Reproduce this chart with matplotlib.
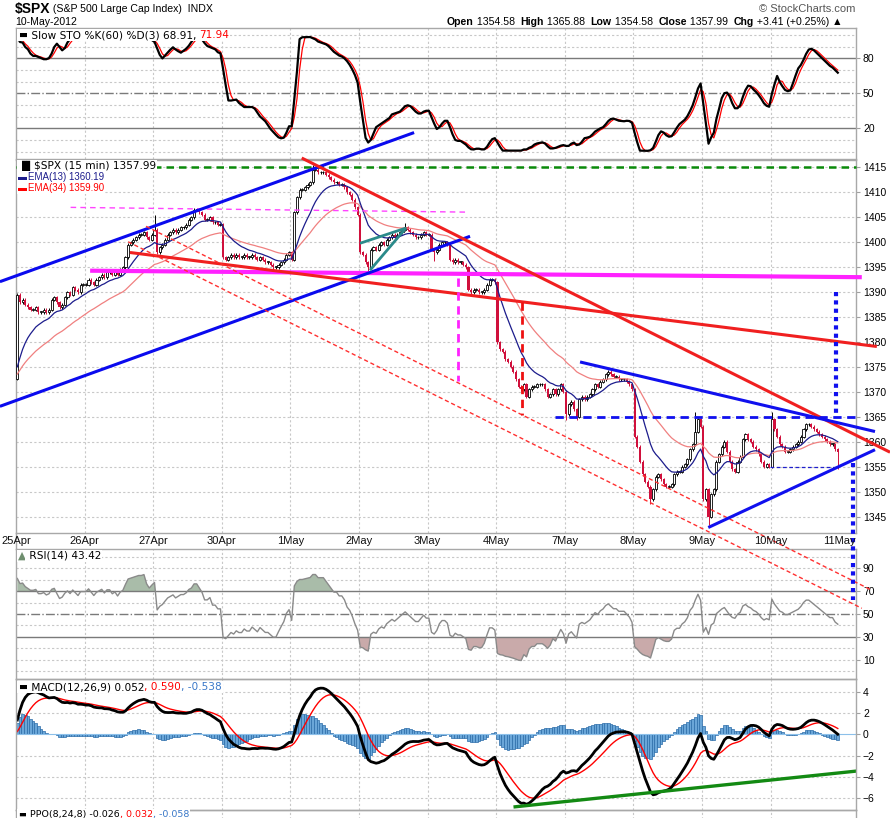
import numpy as np
import pandas as pd
import matplotlib
matplotlib.use('Agg')
import matplotlib.pyplot as plt
from matplotlib.lines import Line2D

# ---- values ----
# 15 minute closes of $SPX, 26 bars per trading day
day_labels = ['25Apr', '26Apr', '27Apr', '30Apr', '1May', '2May', '3May',
              '4May', '7May', '8May', '9May', '10May', '11May']
prior_close = 1372.6

close_25apr = [1389.5, 1388.0, 1388.5, 1387.5, 1387.0, 1386.5, 1386.5, 1387.0, 1386.0, 1386.0, 1386.5, 1386.0, 1386.5,
               1388.5, 1389.0, 1388.0, 1387.0, 1387.5, 1389.0, 1390.0, 1389.5, 1391.0, 1390.5, 1390.0, 1391.5, 1391.5]
close_26apr = [1391.5, 1392.5, 1392.0, 1391.5, 1392.5, 1393.0, 1393.5, 1393.0, 1394.0, 1394.0, 1393.5, 1394.0, 1393.5,
               1394.5, 1395.0, 1397.0, 1399.5, 1400.0, 1400.5, 1401.0, 1401.5, 1401.5, 1402.0, 1401.0, 1400.5, 1401.5]
close_27apr = [1402.5, 1398.0, 1399.0, 1399.5, 1400.5, 1401.5, 1402.0, 1402.5, 1402.0, 1402.5, 1403.0, 1403.0, 1403.5,
               1404.5, 1405.0, 1406.5, 1406.5, 1406.0, 1405.5, 1404.5, 1404.5, 1405.0, 1404.0, 1404.0, 1403.5, 1403.5]
close_30apr = [1397.0, 1396.5, 1397.0, 1397.5, 1397.0, 1397.5, 1397.0, 1397.0, 1397.5, 1397.0, 1397.0, 1397.5, 1397.0,
               1396.5, 1397.0, 1396.5, 1396.0, 1396.0, 1395.5, 1395.0, 1395.0, 1395.5, 1396.0, 1396.5, 1397.5, 1398.0]
close_1may = [1396.5, 1406.0, 1409.0, 1410.5, 1410.5, 1411.0, 1411.5, 1412.0, 1414.5, 1414.5, 1414.0, 1414.0, 1414.0,
              1413.5, 1413.0, 1412.5, 1412.0, 1412.0, 1411.5, 1411.5, 1411.0, 1410.0, 1409.5, 1408.5, 1407.0, 1405.5]
close_2may = [1398.0, 1397.5, 1396.0, 1395.0, 1398.5, 1399.0, 1398.5, 1399.5, 1400.0, 1399.5, 1400.5, 1401.0, 1401.5,
              1401.0, 1401.5, 1402.0, 1402.5, 1403.0, 1402.5, 1402.0, 1401.5, 1401.0, 1401.0, 1401.5, 1402.0, 1401.5]
close_3may = [1401.5, 1398.5, 1398.0, 1398.5, 1399.5, 1400.0, 1400.0, 1399.5, 1396.5, 1396.0, 1396.5, 1396.0, 1396.0,
              1395.5, 1395.0, 1390.5, 1390.0, 1390.5, 1390.5, 1390.0, 1390.0, 1390.5, 1391.5, 1392.5, 1392.5, 1392.0]
close_4may = [1380.0, 1378.5, 1378.0, 1376.5, 1376.0, 1375.0, 1374.0, 1372.5, 1371.0, 1370.5, 1371.5, 1369.0, 1370.5,
              1371.0, 1371.0, 1371.5, 1371.5, 1371.5, 1370.5, 1369.0, 1369.5, 1370.5, 1369.5, 1370.5, 1371.5, 1370.0]
close_7may = [1365.5, 1367.5, 1368.0, 1366.5, 1365.0, 1368.5, 1369.0, 1368.5, 1369.0, 1369.5, 1370.5, 1371.5, 1371.0,
              1372.0, 1372.5, 1373.5, 1374.0, 1373.5, 1373.0, 1373.0, 1372.5, 1372.5, 1372.5, 1372.0, 1371.5, 1370.5]
close_8may = [1361.0, 1359.0, 1356.0, 1353.5, 1352.0, 1351.0, 1348.5, 1350.5, 1353.0, 1353.5, 1352.5, 1351.5, 1351.0,
              1351.0, 1351.5, 1353.5, 1354.0, 1354.0, 1355.0, 1355.5, 1356.5, 1358.5, 1359.5, 1362.0, 1364.5, 1363.0]
close_9may = [1348.5, 1350.5, 1345.0, 1349.5, 1350.5, 1356.0, 1357.5, 1359.0, 1360.0, 1358.0, 1356.0, 1354.5, 1354.0,
              1356.0, 1357.0, 1360.5, 1361.5, 1360.5, 1360.0, 1359.0, 1358.5, 1357.5, 1356.0, 1355.0, 1355.5, 1355.0]
close_10may = [1364.5, 1362.5, 1361.0, 1359.5, 1359.0, 1358.0, 1358.0, 1358.5, 1359.0, 1359.5, 1360.0, 1361.0, 1362.5,
               1363.5, 1363.5, 1363.0, 1362.5, 1362.0, 1361.5, 1361.0, 1360.5, 1360.0, 1359.5, 1359.5, 1358.5, 1358.0]

# longer wicks that stand out (bar index -> price)
wick_high = {52: 1405.5, 112: 1415.5, 147: 1403.8, 257: 1366.0, 286: 1366.0}
wick_low = {133: 1394.2, 158: 1396.2, 208: 1364.4, 212: 1364.3, 240: 1347.5, 262: 1343.3, 311: 1354.6}

# hand drawn trendlines: (bar index pair, value pair)
blue_chan_top = ([-6.6, 150.4], [1392.1, 1422.0])
blue_chan_bot = ([-6.6, 171.6], [1367.1, 1401.2])
red_down = ([107.8, 330.8], [1416.9, 1357.9])
red_shallow = ([42.7, 325.8], [1397.95, 1379.1])
magenta_support = ([27.6, 320.1], [1394.3, 1393.0])
magenta_dash = ([20.2, 170.1], [1407.0, 1406.05])
green_top = ([-0.5, 317.9], [1415.0, 1415.0])
teal_a = ([129.9, 147.3], [1399.8, 1402.85])
teal_b = ([133.7, 147.3], [1394.4, 1402.85])
red_dash_u = ([48.8, 323.2], [1403.2, 1330.4])
red_dash_l = ([42.0, 320.1], [1400.1, 1326.6])
magenta_vert = ([167.2, 167.2], [1392.8, 1372.1])
red_vert = ([191.2, 191.2], [1388.1, 1365.4])
blue_1365 = ([203.7, 317.9], [1365.0, 1365.0])
blue_vdot_a = ([310.3, 310.3], [1390.1, 1365.7])
blue_vdot_b = ([316.9, 316.9], [1355.7, 1328.3])
tri_top = ([213.3, 325.1], [1376.0, 1362.05])
tri_bot = ([261.9, 325.1], [1342.8, 1358.4])
dash_1355 = ([285.3, 310.0], [1355.0, 1355.0])
macd_support = ([188.7, 317.9], [-6.8, -3.45])

# ---- build OHLC + indicators ----
closes = np.array(close_25apr + close_26apr + close_27apr + close_30apr + close_1may + close_2may +
                  close_3may + close_4may + close_7may + close_8may + close_9may + close_10may)
n = len(closes)
x = np.arange(n)
opens = np.r_[prior_close, closes[:-1]]
highs = np.maximum(opens, closes) + 0.3
lows = np.minimum(opens, closes) - 0.3
for k, v in wick_high.items():
    highs[k] = max(highs[k], v)
for k, v in wick_low.items():
    lows[k] = min(lows[k], v)

s = pd.Series(np.r_[prior_close, closes])
ema13 = s.ewm(span=13, adjust=False).mean().values[1:]
ema34 = s.ewm(span=34, adjust=False).mean().values[1:]
macd_full = s.ewm(span=12, adjust=False).mean() - s.ewm(span=26, adjust=False).mean()
signal_full = macd_full.ewm(span=9, adjust=False).mean()
macd = macd_full.values[1:]
signal = signal_full.values[1:]
hist = macd - signal

# RSI(14), Wilder smoothing
ag, al = 0.42, 0.40
rsi = []
for dlt in np.diff(np.r_[prior_close, closes]):
    ag = (ag * 13 + max(dlt, 0)) / 14
    al = (al * 13 + max(-dlt, 0)) / 14
    rsi.append(100 - 100 / (1 + ag / al))
rsi = np.array(rsi)

# slow stochastic %K(60) %D(3)
hh = pd.Series(highs).rolling(60, min_periods=1).max()
ll = pd.Series(lows).rolling(60, min_periods=1).min()
fastk = 100 * (closes - ll) / (hh - ll)
slowk = fastk.rolling(3, min_periods=1).mean().values
slowd = pd.Series(slowk).rolling(3, min_periods=1).mean().values

# ---- figure ----
W, H = 890, 818
fig = plt.figure(figsize=(W / 100, H / 100), dpi=100)
fig.patch.set_facecolor('white')


def rect(top, bottom):
    return [16 / W, 1 - bottom / H, 840 / W, (bottom - top) / H]


ax_sto = fig.add_axes(rect(28, 159))
ax_px = fig.add_axes(rect(160, 533), zorder=5)
ax_rsi = fig.add_axes(rect(549, 679))
ax_macd = fig.add_axes(rect(679, 810))
ax_ppo = fig.add_axes(rect(810, 900))

GRID = '#c8c8c8'
REF = '#7a7a7a'
RED = '#d0103c'
day_pos = [26 * k - 0.5 for k in range(13)]

for ax in [ax_sto, ax_px, ax_rsi, ax_macd, ax_ppo]:
    ax.set_facecolor('none')
    ax.set_xlim(-0.5, 317.9)
    ax.set_xticks([])
    for sp in ax.spines.values():
        sp.set_color('#a8a8a8')
        sp.set_linewidth(1)
    ax.yaxis.tick_right()
    ax.tick_params(axis='y', length=3, width=0.8, color='#a0a0a0', pad=2, labelsize=7.5)
    for d in day_pos[1:12]:
        ax.axvline(d, color=GRID, lw=0.8, ls=(0, (2, 2)), zorder=0)

# stochastic panel
ax_sto.set_ylim(-6.3, 106)
for v in [0, 10, 30, 40, 60, 70, 90, 100]:
    ax_sto.axhline(v, color=GRID, lw=0.8, ls=(0, (2, 2)), zorder=0)
ax_sto.axhline(80, color=REF, lw=1)
ax_sto.axhline(20, color=REF, lw=1)
ax_sto.axhline(50, color=REF, lw=1, ls='-.')
ax_sto.plot(x, slowd, color='red', lw=0.9)
ax_sto.plot(x, slowk, color='black', lw=1.6)
ax_sto.set_yticks([20, 50, 80])

# price panel
ax_px.set_ylim(1341.7, 1416.5)
ticks_px = list(range(1345, 1416, 5))
for v in ticks_px:
    ax_px.axhline(v, color=GRID, lw=0.8, ls=(0, (2, 2)), zorder=0)
ax_px.set_yticks(ticks_px)
up = closes >= opens
ax_px.vlines(x[up], lows[up], highs[up], color='black', lw=0.7, zorder=2)
ax_px.vlines(x[~up], lows[~up], highs[~up], color=RED, lw=0.7, zorder=2)
ax_px.bar(x[up], np.maximum((closes - opens)[up], 0.15), bottom=opens[up], width=0.8,
          facecolor='white', edgecolor='black', lw=0.6, zorder=3)
ax_px.bar(x[~up], (closes - opens)[~up], bottom=opens[~up], width=0.8, color=RED, lw=0, zorder=3)
ax_px.plot(x, ema34, color='#f08080', lw=0.9, zorder=4)
ax_px.plot(x, ema13, color='#1c1c8c', lw=0.9, zorder=4)


def tline(ax, pts, color, lw, ls='-'):
    ax.plot(pts[0], pts[1], color=color, lw=lw, ls=ls, clip_on=False, zorder=6,
            solid_capstyle='butt', dash_capstyle='butt')


tline(ax_px, green_top, '#0a8a0a', 1.8, (0, (3, 2)))
tline(ax_px, magenta_dash, '#ff44ff', 1.0, (0, (4, 3)))
tline(ax_px, magenta_support, '#ff22ff', 3.0)
tline(ax_px, blue_chan_top, '#0a0aee', 2.2)
tline(ax_px, blue_chan_bot, '#0a0aee', 2.2)
tline(ax_px, red_down, '#f02020', 2.2)
tline(ax_px, red_shallow, '#f02020', 2.2)
tline(ax_px, teal_a, '#2a8a8a', 2.0)
tline(ax_px, teal_b, '#2a8a8a', 2.0)
tline(ax_px, red_dash_u, '#ff3030', 1.0, (0, (3, 2)))
tline(ax_px, red_dash_l, '#ff3030', 1.0, (0, (3, 2)))
tline(ax_px, magenta_vert, '#ff22ff', 2.0, (0, (3, 2)))
tline(ax_px, red_vert, '#ee1010', 2.0, (0, (3, 2)))
tline(ax_px, blue_1365, '#1010ee', 2.0, (0, (3, 2)))
tline(ax_px, blue_vdot_a, '#1010ee', 3.0, (0, (1, 1)))
tline(ax_px, blue_vdot_b, '#1010ee', 3.0, (0, (1, 1)))
tline(ax_px, tri_top, '#1010ee', 2.2)
tline(ax_px, tri_bot, '#1010ee', 2.2)
tline(ax_px, dash_1355, '#2020cc', 0.9, (0, (3, 2)))

# RSI panel
ax_rsi.set_ylim(-6.8, 106.9)
for v in [0, 10, 20, 40, 60, 80, 90, 100]:
    ax_rsi.axhline(v, color=GRID, lw=0.8, ls=(0, (2, 2)), zorder=0)
ax_rsi.axhline(70, color=REF, lw=1)
ax_rsi.axhline(30, color=REF, lw=1)
ax_rsi.axhline(50, color=REF, lw=1, ls='-.')
ax_rsi.fill_between(x, rsi, 70, where=rsi > 70, interpolate=True, color='#a9bca9', lw=0)
ax_rsi.fill_between(x, rsi, 30, where=rsi < 30, interpolate=True, color='#c9aaaa', lw=0)
ax_rsi.plot(x, rsi, color='#8a8a8a', lw=1)
ax_rsi.set_yticks([10, 30, 50, 70, 90])

# MACD panel
ax_macd.set_ylim(-7.1, 5.2)
for v in [-6, -4, -2, 2, 4]:
    ax_macd.axhline(v, color=GRID, lw=0.8, ls=(0, (2, 2)), zorder=0)
ax_macd.bar(x, hist, width=1.0, facecolor='#6aa6d8', edgecolor='#2b6ca8', lw=0.5)
ax_macd.axhline(0, color='#8cc0ea', lw=0.8)
ax_macd.plot(x, signal, color='red', lw=1.0)
ax_macd.plot(x, macd, color='black', lw=2.0)
ax_macd.plot(macd_support[0], macd_support[1], color='#138a13', lw=2.4)
ax_macd.set_yticks([-6, -4, -2, 0, 2, 4])

ax_ppo.set_ylim(0, 1)
ax_ppo.set_yticks([])

for ax in [ax_sto, ax_px, ax_rsi, ax_macd]:
    for lab in ax.get_yticklabels():
        lab.set_family('Liberation Sans')
        lab.set_fontsize(7.5)

# ---- overlay in pixel units for the texts ----
ov = fig.add_axes([0, 0, 1, 1], zorder=20)
ov.set_xlim(0, W)
ov.set_ylim(H, 0)
ov.axis('off')

for k, lab in enumerate(day_labels):
    ov.text(16 + 68.6 * k, 541, lab, ha='center', va='center', fontsize=8,
            family='Liberation Sans', color='#111111')
ov.add_line(Line2D([16, 16], [533, 549], color='#a8a8a8', lw=1))


def chain(x0, y0, parts, size, family='DejaVu Sans', box=False):
    prev = None
    for txt, color, weight in parts:
        kw = dict(fontsize=size, color=color, fontweight=weight,
                  family=[family, 'DejaVu Sans'], va='center', ha='left')
        if box:
            kw['bbox'] = dict(fc='white', ec='none', pad=0.6)
        if prev is None:
            prev = ov.text(x0, y0, txt, **kw)
        else:
            prev = ov.annotate(txt, xy=(1, 0.5), xycoords=prev, **kw)
    return prev


# header
chain(15, 9, [('$SPX', 'black', 'bold'), (' (S&P 500 Large Cap Index)  INDX', 'black', 'normal')],
      10, 'Liberation Sans')
ov.texts[-1].set_fontsize(7.6)
ov.text(15, 22, '10-May-2012', fontsize=7.6, family='Liberation Sans', va='center')
chain(447, 22, [('Open', 'black', 'bold'), (' 1354.58  ', 'black', 'normal'),
                ('High', 'black', 'bold'), (' 1365.88  ', 'black', 'normal'),
                ('Low', 'black', 'bold'), (' 1354.58  ', 'black', 'normal'),
                ('Close', 'black', 'bold'), (' 1357.99  ', 'black', 'normal'),
                ('Chg', 'black', 'bold'), (' +3.41 (+0.25%) \u25b2', 'black', 'normal')],
      7.6, 'Liberation Sans')
ov.text(855, 9, '\u00a9 StockCharts.com', ha='right', va='center', fontsize=8,
        family='Liberation Sans', color='#555555')

# panel legends
chain(18, 35, [('\u25ac', 'black', 'normal'), (' Slow STO %K(60) %D(3) 68.91, ', 'black', 'normal'),
               ('71.94', 'red', 'normal')], 7.6, box=True)
chain(18, 166, [('\u2590\u258c', 'black', 'normal'), ('$SPX (15 min) 1357.99', 'black', 'normal')],
      7.6, box=True)
chain(18, 177, [('\u25ac', '#1c1c8c', 'normal'), ('EMA(13) 1360.19', '#1c1c8c', 'normal')], 7.0,
      'Liberation Sans', box=True)
chain(18, 188, [('\u25ac', 'red', 'normal'), ('EMA(34) 1359.90', 'red', 'normal')], 7.0,
      'Liberation Sans', box=True)
chain(18, 556, [('\u25b2', '#6f8f6f', 'normal'), (' RSI(14) 43.42', 'black', 'normal')], 7.6, box=True)
chain(18, 687, [('\u25ac', 'black', 'normal'), (' MACD(12,26,9) 0.052', 'black', 'normal'),
                (', 0.590', 'red', 'normal'), (', -0.538', '#3a78c8', 'normal')], 7.6, box=True)
chain(18, 814, [('\u25ac', 'black', 'normal'), (' PPO(8,24,8) -0.026', 'black', 'normal'),
                (', 0.032', 'red', 'normal'), (', -0.058', '#3a78c8', 'normal')], 6.8, box=True)

fig.savefig('out.png', dpi=100, facecolor='white')
